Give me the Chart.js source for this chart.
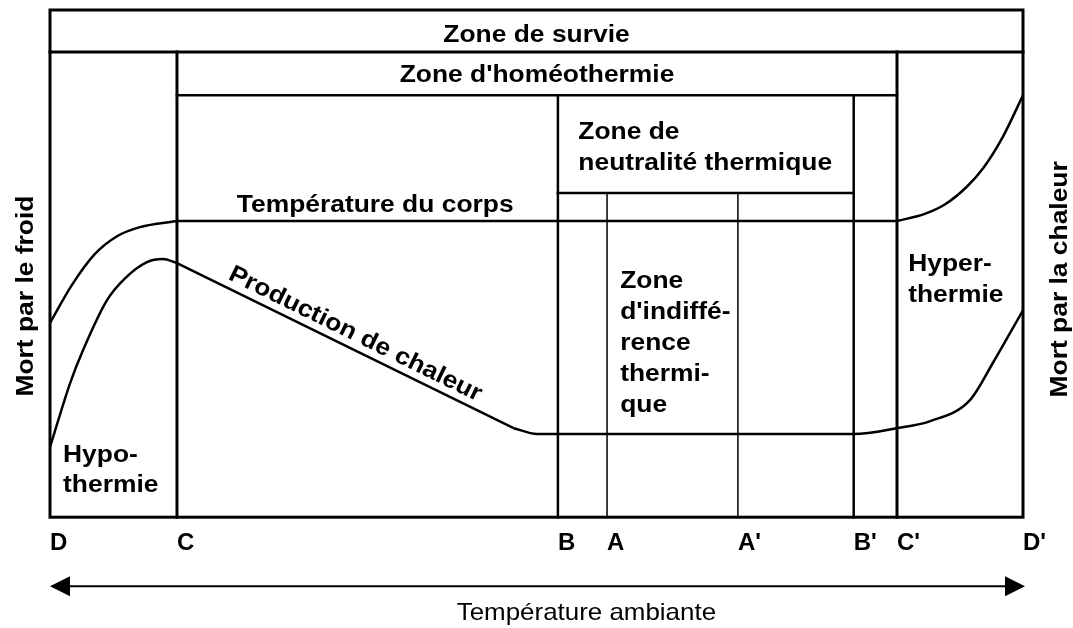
<!DOCTYPE html>
<html>
<head>
<meta charset="utf-8">
<script src="https://cdn.jsdelivr.net/npm/chart.js@4"></script>
<style>
  html, body { margin: 0; padding: 0; background: #fff; }
  canvas { display: block; }
</style>
</head>
<body>
<canvas id="zones" width="1073" height="628"></canvas>
<script>
// bornes des zones sur l'axe de température ambiante (D = 0, D' = 100)
const zoneLetters = ['D', 'C', 'B', 'A', "A'", "B'", "C'", "D'"];
const zonePositions = [0, 13.05, 52.2, 57.25, 70.7, 82.6, 87.05, 100];

// niveaux des bandes horizontales (0 = bas, 100 = haut)
const survieBottom = 91.7;
const homeoBottom = 83.2;
const neutreBottom = 63.9;

// température du corps : montée côté froid, palier, montée côté chaud
const corpsFroidX = [0, 2.26, 4.62, 6.89, 9.25, 13.05];
const corpsFroidY = [38.3, 45.8, 51.9, 55.4, 57.2, 58.4];
const corpsPalierX = [13.05, 87.05];
const corpsPalierY = [58.4, 58.4];
const corpsChaudX = [87.05, 89.9, 92.0, 94.2, 95.9, 97.9, 100];
const corpsChaudY = [58.4, 59.8, 61.7, 65.1, 68.8, 74.9, 83.2];

// production de chaleur : hypothermie, pente, palier + hyperthermie
const prodFroidX = [0, 2.06, 3.39, 5.86, 7.71, 9.97, 11.6, 13.05];
const prodFroidY = [13.8, 26.4, 32.9, 42.8, 47.1, 50.3, 50.9, 50.1];
const prodPenteX = [13.05, 47.6];
const prodPenteY = [50.1, 17.6];
const prodChaudX = [47.6, 50.05, 82.6, 87.15, 90.4, 94.55, 96.9, 100];
const prodChaudY = [17.6, 16.4, 16.4, 17.6, 18.9, 23.1, 30.4, 40.8];

const FONT = '"Liberation Sans", Arial, Helvetica, sans-serif';
const STRETCH = 1.1;

function label(ctx, str, x, y, opts) {
    opts = opts || {};
    ctx.save();
    ctx.translate(x, y);
    if (opts.rotate) ctx.rotate(opts.rotate);
    ctx.scale(opts.stretch || STRETCH, 1);
    ctx.font = (opts.weight || 'bold') + ' ' + (opts.size || 24) + 'px ' + FONT;
    ctx.fillStyle = '#000';
    ctx.textAlign = opts.align || 'left';
    ctx.textBaseline = 'alphabetic';
    ctx.fillText(str, 0, 0);
    ctx.restore();
}

const zoneDrawing = {
    id: 'zoneDrawing',
    beforeDatasetsDraw(chart) {
        const ctx = chart.ctx;
        const x = chart.scales.x, y = chart.scales.y;
        const px = v => x.getPixelForValue(v);
        const py = v => y.getPixelForValue(v);
        const [D, C, B, A, A2, B2, C2, D2] = zonePositions;

        const seg = (x1, y1, x2, y2, w) => {
            ctx.lineWidth = w;
            ctx.beginPath();
            ctx.moveTo(px(x1), py(y1));
            ctx.lineTo(px(x2), py(y2));
            ctx.stroke();
        };

        ctx.save();
        ctx.strokeStyle = '#000';
        ctx.lineCap = 'square';
        ctx.lineWidth = 3;
        ctx.strokeRect(px(D), py(100), px(D2) - px(D), py(0) - py(100));
        seg(D, survieBottom, D2, survieBottom, 3);
        seg(C, 0, C, survieBottom, 3);
        seg(C2, 0, C2, survieBottom, 3);
        seg(C, homeoBottom, C2, homeoBottom, 2.5);
        seg(B, 0, B, homeoBottom, 2.5);
        seg(B2, 0, B2, homeoBottom, 2.5);
        seg(B, neutreBottom, B2, neutreBottom, 2.5);
        seg(A, 0, A, neutreBottom, 1.5);
        seg(A2, 0, A2, neutreBottom, 1.5);
        ctx.restore();
    },
    afterDraw(chart) {
        const ctx = chart.ctx;
        const area = chart.chartArea;
        const x = chart.scales.x, y = chart.scales.y;
        const px = v => x.getPixelForValue(v);
        const py = v => y.getPixelForValue(v);
        const [D, C, B, A, A2, B2, C2, D2] = zonePositions;

        label(ctx, 'Zone de survie', px((D + D2) / 2), py(93.7), { align: 'center' });
        label(ctx, "Zone d'homéothermie", px((C + C2) / 2), py(85.8), { align: 'center' });
        label(ctx, 'Zone de', px(54.3), py(74.6));
        label(ctx, 'neutralité thermique', px(54.3), py(68.4));
        label(ctx, 'Température du corps', px(19.2), py(60.2));

        const indiff = ['Zone', "d'indiffé-", 'rence', 'thermi-', 'que'];
        const indiffY = [45.2, 39.1, 32.9, 26.8, 20.7];
        indiff.forEach((s, i) => label(ctx, s, px(58.6), py(indiffY[i])));

        label(ctx, 'Hypo-', px(1.34), py(10.8));
        label(ctx, 'thermie', px(1.34), py(4.9));
        label(ctx, 'Hyper-', px(88.2), py(48.5));
        label(ctx, 'thermie', px(88.2), py(42.4));

        // texte le long de la droite de production de chaleur
        const x1 = px(prodPenteX[0]), y1 = py(prodPenteY[0]);
        const x2 = px(prodPenteX[1]), y2 = py(prodPenteY[1]);
        const a = Math.atan2(y2 - y1, x2 - x1);
        const t = 52, off = 8;
        const ax = x1 + t * Math.cos(a) + off * Math.sin(a);
        const ay = y1 + t * Math.sin(a) - off * Math.cos(a);
        label(ctx, 'Production de chaleur', ax, ay, { rotate: a });

        // étiquettes latérales
        label(ctx, 'Mort par le froid', area.left - 17, py(43.6), { rotate: -Math.PI / 2, align: 'center' });
        label(ctx, 'Mort par la chaleur', area.right + 44, py(46.9), { rotate: -Math.PI / 2, align: 'center' });

        // flèche de température ambiante
        const ay2 = area.bottom + 69;
        const left = px(D), right = px(D2) + 2;
        ctx.save();
        ctx.strokeStyle = '#000';
        ctx.fillStyle = '#000';
        ctx.lineWidth = 2;
        ctx.beginPath();
        ctx.moveTo(left + 15, ay2);
        ctx.lineTo(right - 15, ay2);
        ctx.stroke();
        ctx.beginPath();
        ctx.moveTo(left, ay2);
        ctx.lineTo(left + 20, ay2 - 10);
        ctx.lineTo(left + 20, ay2 + 10);
        ctx.closePath();
        ctx.fill();
        ctx.beginPath();
        ctx.moveTo(right, ay2);
        ctx.lineTo(right - 20, ay2 - 10);
        ctx.lineTo(right - 20, ay2 + 10);
        ctx.closePath();
        ctx.fill();
        ctx.restore();

        label(ctx, 'Température ambiante', px(41.8), area.bottom + 103, { weight: 'normal', stretch: 1.08 });
    }
};

function piece(name, xs, ys, curved) {
    return {
        label: name,
        data: xs.map((v, i) => ({ x: v, y: ys[i] })),
        borderColor: '#000',
        borderWidth: 2.5,
        pointRadius: 0,
        fill: false,
        tension: 0,
        cubicInterpolationMode: curved ? 'monotone' : 'default'
    };
}

new Chart(document.getElementById('zones'), {
    type: 'line',
    data: {
        datasets: [
            piece('Température du corps (froid)', corpsFroidX, corpsFroidY, true),
            piece('Température du corps', corpsPalierX, corpsPalierY, false),
            piece('Température du corps (chaud)', corpsChaudX, corpsChaudY, true),
            piece('Production de chaleur (froid)', prodFroidX, prodFroidY, true),
            piece('Production de chaleur', prodPenteX, prodPenteY, false),
            piece('Production de chaleur (chaud)', prodChaudX, prodChaudY, true)
        ]
    },
    options: {
        responsive: false,
        animation: false,
        layout: { padding: { left: 50, right: 50, top: 10, bottom: 58 } },
        plugins: {
            legend: { display: false },
            tooltip: { enabled: false }
        },
        scales: {
            x: {
                type: 'linear',
                min: 0,
                max: 100,
                grid: { display: false, drawTicks: false },
                border: { display: false },
                afterBuildTicks: function(axis) {
                    axis.ticks = zonePositions.map(v => ({ value: v }));
                },
                ticks: {
                    align: 'start',
                    padding: 12,
                    autoSkip: false,
                    maxRotation: 0,
                    color: '#000',
                    font: { family: FONT, size: 24, weight: 'bold' },
                    callback: function(value, index) {
                        return zoneLetters[index];
                    }
                }
            },
            y: { display: false, min: 0, max: 100 }
        }
    },
    plugins: [zoneDrawing]
});
</script>
</body>
</html>
